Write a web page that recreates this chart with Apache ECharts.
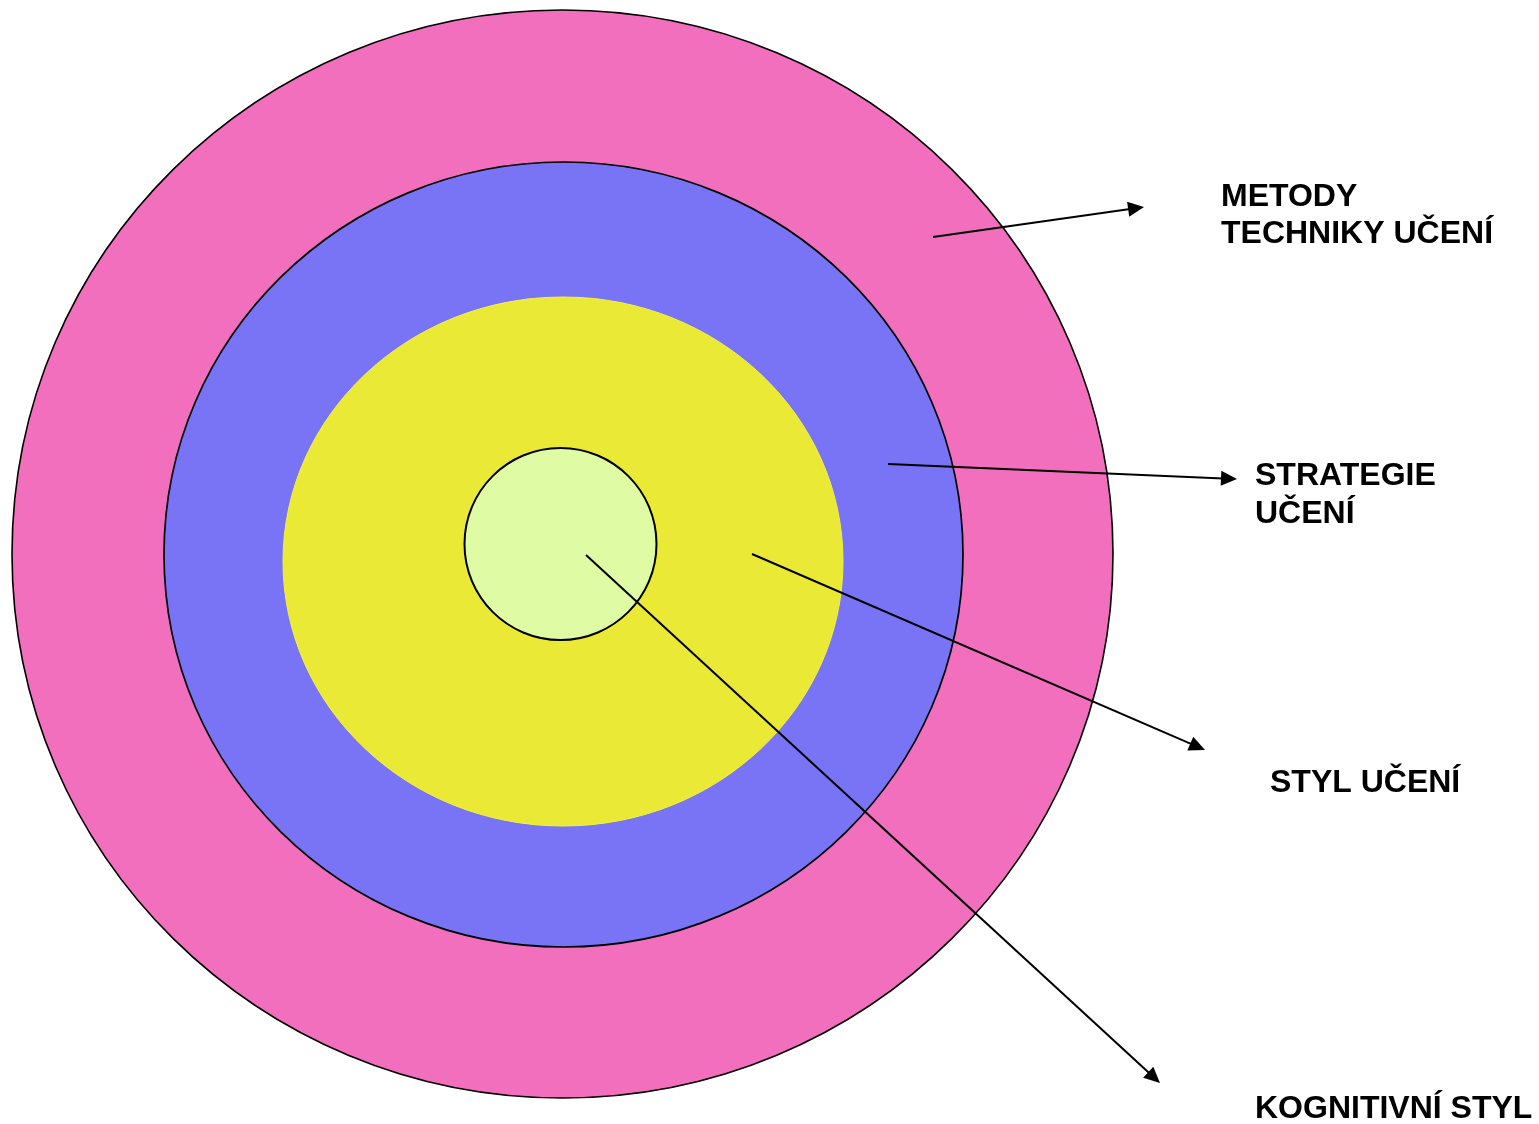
<!DOCTYPE html>
<html>
<head>
<meta charset="utf-8">
<script src="https://cdn.jsdelivr.net/npm/echarts@6/dist/echarts.min.js"></script>
<style>
html,body{margin:0;padding:0;background:#fff;}
#chart{width:1539px;height:1124px;}
</style>
</head>
<body>
<div id="chart"></div>
<script>
// Nested layers (outer -> inner)
const layerNames = ['METODY TECHNIKY UČENÍ', 'STRATEGIE UČENÍ', 'STYL UČENÍ', 'KOGNITIVNÍ STYL'];
const layerCenterX = [562.5, 563.5, 563, 560.5];
const layerCenterY = [554, 554.5, 561.5, 544];
const layerRadiusX = [550.5, 399.5, 280, 96];
const layerRadiusY = [544, 392.5, 264.5, 96];
const layerColors = ['#F26FBD', '#7874F5', '#EAEA36', '#DFFBA4'];

// Arrows (from inside a layer to its label)
const arrowFromX = [933, 888, 752, 586];
const arrowFromY = [237, 464, 554, 555];
const arrowToX = [1144, 1237, 1205, 1160];
const arrowToY = [207, 479, 750, 1083];

// Label text lines
const labelTexts = ['METODY', 'TECHNIKY UČENÍ', 'STRATEGIE', 'UČENÍ', 'STYL UČENÍ', 'KOGNITIVNÍ STYL'];
const labelX = [1221, 1221, 1255, 1255, 1270, 1255];
const labelY = [196.5, 233.5, 475, 513, 782, 1108.5];

const layerData = layerNames.map((n, i) => [layerCenterX[i], layerCenterY[i], layerRadiusX[i], layerRadiusY[i], i]);
const arrowData = arrowFromX.map((x, i) => [x, arrowFromY[i], arrowToX[i], arrowToY[i]]);
const labelData = labelTexts.map((t, i) => [labelX[i], labelY[i], i]);

const strokeColors = ['#000', '#000', '#F3F33C', '#000'];
const strokeWidths = [1.6, 1.7, 1, 2];

const chart = echarts.init(document.getElementById('chart'), null, {renderer: 'canvas'});
chart.setOption({
  animation: false,
  backgroundColor: '#ffffff',
  grid: {left: 0, right: 0, top: 0, bottom: 0},
  xAxis: {type: 'value', min: 0, max: 1539, show: false},
  yAxis: {type: 'value', min: 0, max: 1124, inverse: true, show: false},
  series: [
    {
      type: 'custom',
      name: 'layers',
      clip: false,
      data: layerData,
      renderItem: function (params, api) {
        const cx = api.value(0), cy = api.value(1), rx = api.value(2), ry = api.value(3), i = api.value(4);
        const c = api.coord([cx, cy]);
        const e = api.coord([cx + rx, cy + ry]);
        return {
          type: 'ellipse',
          shape: {cx: c[0], cy: c[1], rx: Math.abs(e[0] - c[0]), ry: Math.abs(e[1] - c[1])},
          style: {fill: layerColors[i], stroke: strokeColors[i], lineWidth: strokeWidths[i]}
        };
      }
    },
    {
      type: 'custom',
      name: 'arrows',
      clip: false,
      data: arrowData,
      renderItem: function (params, api) {
        const p0 = api.coord([api.value(0), api.value(1)]);
        const p1 = api.coord([api.value(2), api.value(3)]);
        const dx = p1[0] - p0[0], dy = p1[1] - p0[1];
        const len = Math.sqrt(dx * dx + dy * dy);
        const ux = dx / len, uy = dy / len;
        const hl = 16, hw = 7.5;
        const bx = p1[0] - ux * hl, by = p1[1] - uy * hl;
        return {
          type: 'group',
          children: [
            {type: 'line', shape: {x1: p0[0], y1: p0[1], x2: bx + ux * 2, y2: by + uy * 2},
             style: {stroke: '#000', lineWidth: 2}},
            {type: 'polygon', shape: {points: [[p1[0], p1[1]], [bx - uy * hw, by + ux * hw], [bx + uy * hw, by - ux * hw]]},
             style: {fill: '#000'}}
          ]
        };
      }
    },
    {
      type: 'custom',
      name: 'labels',
      clip: false,
      data: labelData,
      renderItem: function (params, api) {
        const p = api.coord([api.value(0), api.value(1)]);
        return {
          type: 'text',
          style: {
            text: labelTexts[api.value(2)],
            x: p[0], y: p[1] + 1,
            fill: '#000',
            font: 'bold 32px "Liberation Sans", Arial, sans-serif',
            align: 'left',
            verticalAlign: 'middle'
          }
        };
      }
    }
  ]
});
</script>
</body>
</html>
